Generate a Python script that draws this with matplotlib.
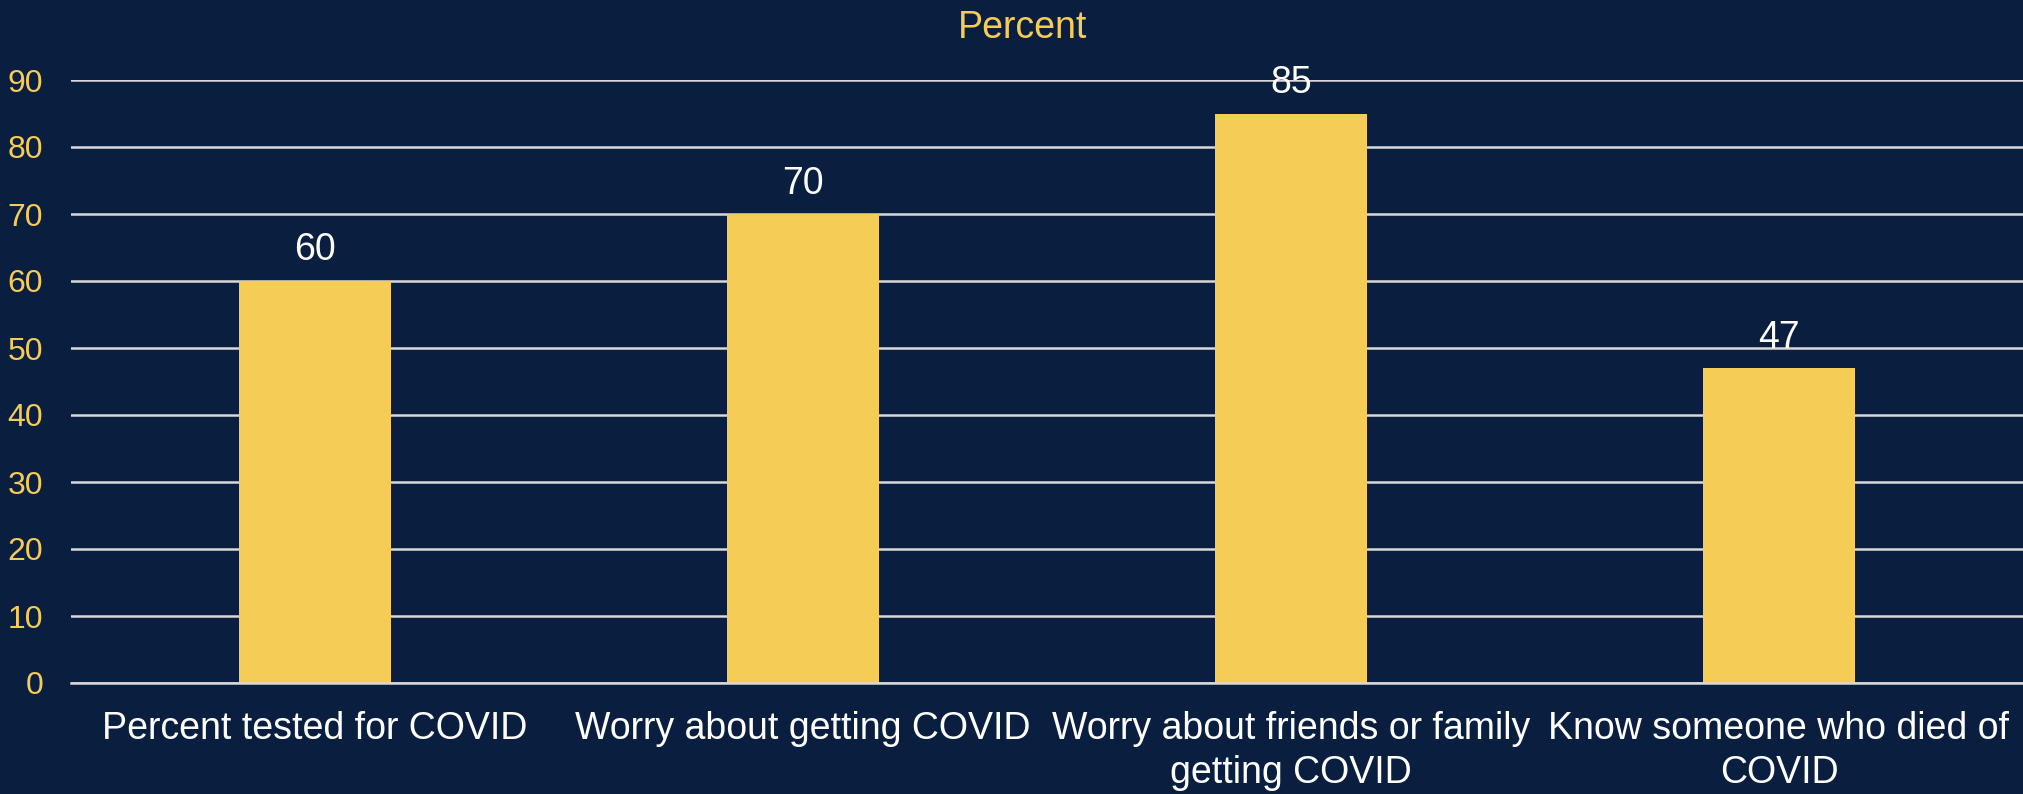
import numpy as np
import matplotlib.pyplot as plt

plt.rcParams['font.family'] = ['Liberation Sans', 'DejaVu Sans']

categories = ["Percent tested for COVID", "Worry about getting COVID",
              "Worry about friends or family\ngetting COVID", "Know someone who died of\nCOVID"]
values = [60, 70, 85, 47]
yticks = list(range(0, 91, 10))

bg = '#0A1F3F'
yellow = '#F4CC56'

fig = plt.figure(figsize=(20.23, 7.94), dpi=100, facecolor=bg)
ax = fig.add_axes([71 / 2023, 111 / 794, 1 - 71 / 2023, (683 - 80) / 794])
ax.set_facecolor(bg)

x = np.arange(len(categories))
bars = ax.bar(x, values, width=0.31, color=yellow, zorder=3)
for b, v in zip(bars, values):
    ax.annotate(str(v), (b.get_x() + b.get_width() / 2, v), xytext=(0, 9),
                textcoords='offset points', ha='center', va='bottom',
                color='white', fontsize=27, zorder=4)

ax.set_xlim(-0.5, len(categories) - 0.5)
ax.set_ylim(0, 90)
ax.set_yticks(yticks)
ax.yaxis.grid(True, color='#D9D9D9', linewidth=1.8, zorder=1)
ax.set_axisbelow(True)
# baseline drawn unclipped so it is as thick as the other gridlines
ax.axhline(0, color='#D9D9D9', linewidth=1.8, zorder=4, clip_on=False)
ax.tick_params(axis='y', length=0, pad=20, labelcolor=yellow, labelsize=23)
ax.tick_params(axis='x', length=0, pad=20, labelcolor='white', labelsize=27)
ax.set_xticks(x)
ax.set_xticklabels(categories, linespacing=1.3)
for s in ax.spines.values():
    s.set_visible(False)

fig.text(1023 / 2023, 1 - 28 / 794, 'Percent', ha='center', va='center',
         color=yellow, fontsize=27)

fig.savefig('out.png', dpi=100, facecolor=bg)
